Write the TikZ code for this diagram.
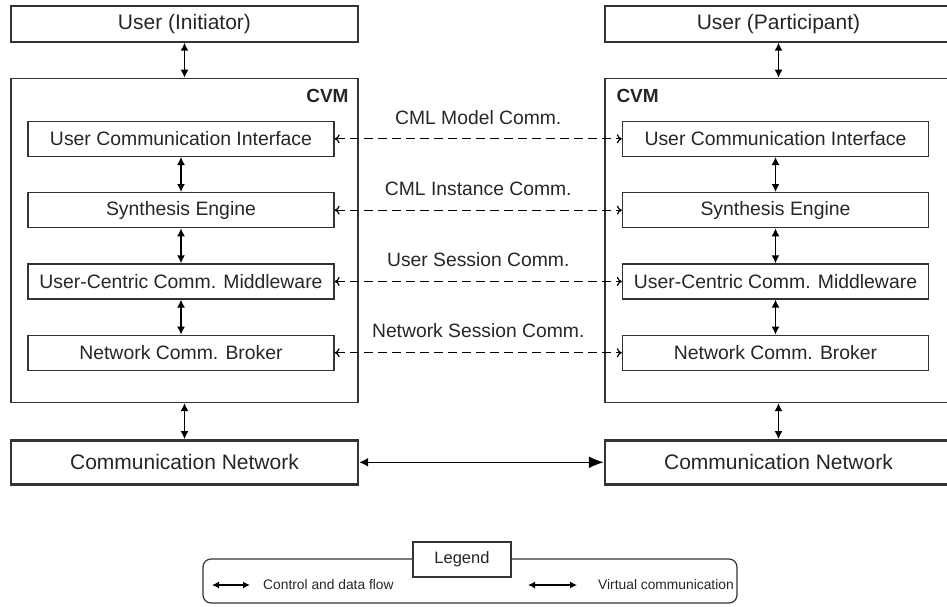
\documentclass[tikz,border=0pt]{standalone}
\usepackage{fontspec}
\setmainfont{Liberation Sans}
\usetikzlibrary{arrows.meta, positioning}

\begin{document}
\begin{tikzpicture}[
  x=1pt, y=-1pt,
  node distance=35pt,
  every node/.style={text=black!85, inner sep=0pt},
  outerbox/.style={draw=black!80, line width=1.4pt, minimum width=347pt},
  userbox/.style={outerbox, minimum height=36pt, font=\fontsize{21}{24}\selectfont},
  cvmbox/.style={outerbox, minimum height=324pt},
  layer/.style={draw=black!80, line width=1.3pt, minimum width=306pt, minimum height=35pt, font=\fontsize{19.4}{22}\selectfont},
  netbox/.style={outerbox, line width=2.4pt, minimum height=44pt, font=\fontsize{21}{24}\selectfont},
  cvmlabel/.style={font=\bfseries\fontsize{19}{22}\selectfont},
  commlabel/.style={font=\fontsize{19.3}{22}\selectfont},
  legendtext/.style={anchor=west, font=\fontsize{13.8}{16}\selectfont},
  flow/.style={{Latex[length=8pt,width=8pt]}-{Latex[length=8pt,width=8pt]}, line width=1.4pt},
  virtual/.style={{To[length=5pt,width=9pt]}-{To[length=5pt,width=9pt]}, line width=1.2pt, dash pattern=on 9pt off 5pt}
]
\useasboundingbox (0,0) rectangle (947,607);
\clip (0,0) rectangle (947,607);

% Initiator side
\node[userbox] (userI) at (184.5,24) {User (Initiator)};
\node[cvmbox, below=of userI] (cvmI) {};
\node[cvmlabel, anchor=north east] (cvmIlabel) at ([xshift=-10pt, yshift=-11pt]cvmI.north east) {CVM};
\node[layer, below=43pt of cvmI.north, xshift=-3.5pt] (uciI) {User Communication Interface};
\node[layer, below=of uciI] (seI) {Synthesis Engine};
\node[layer, below=of seI] (ucmI) {User-Centric Comm. Middleware};
\node[layer, below=of ucmI] (ncbI) {Network Comm. Broker};
\node[netbox, below=36pt of cvmI] (netI) {Communication Network};

% Participant side
\node[userbox] (userP) at (778.5,24) {User (Participant)};
\node[cvmbox, below=of userP] (cvmP) {};
\node[cvmlabel, anchor=north west] (cvmPlabel) at ([xshift=12pt, yshift=-11pt]cvmP.north west) {CVM};
\node[layer, below=43pt of cvmP.north, xshift=-3pt] (uciP) {User Communication Interface};
\node[layer, below=of uciP] (seP) {Synthesis Engine};
\node[layer, below=of seP] (ucmP) {User-Centric Comm. Middleware};
\node[layer, below=of ucmP] (ncbP) {Network Comm. Broker};
\node[netbox, below=36pt of cvmP] (netP) {Communication Network};

% Control and data flow
\draw[flow] (userI) -- (cvmI);
\draw[flow] (uciI) -- (seI);
\draw[flow] (seI) -- (ucmI);
\draw[flow] (ucmI) -- (ncbI);
\draw[flow] (cvmI) -- (netI);
\draw[flow] (userP) -- (cvmP);
\draw[flow] (uciP) -- (seP);
\draw[flow] (seP) -- (ucmP);
\draw[flow] (ucmP) -- (ncbP);
\draw[flow] (cvmP) -- (netP);
\draw[{Latex[length=9pt,width=9pt]}-{Latex[length=15pt,width=12pt]}, line width=1.5pt] (netI) -- (netP);

% Virtual communication
\draw[virtual] (uciI) -- node[commlabel, midway, above=14pt] (cmlmodel) {CML Model Comm.} (uciP);
\draw[virtual] (seI) -- node[commlabel, midway, above=14pt] (cmlinst) {CML Instance Comm.} (seP);
\draw[virtual] (ucmI) -- node[commlabel, midway, above=14pt] (usersess) {User Session Comm.} (ucmP);
\draw[virtual] (ncbI) -- node[commlabel, midway, above=14pt] (netsess) {Network Session Comm.} (ncbP);

% Legend
\node[draw=black!80, line width=1.2pt, rounded corners=8pt, minimum width=534pt, minimum height=44pt] (legend) at (470,581) {};
\node[draw=black!80, line width=1.2pt, fill=white, minimum width=98pt, minimum height=35pt, font=\fontsize{16.5}{19}\selectfont] (legendtitle) at (462,559.5) {Legend};
\coordinate (flowA) at (212,585);
\coordinate (flowB) at (250,585);
\draw[{Latex[length=7pt,width=7pt]}-{Latex[length=7pt,width=7pt]}, line width=1.3pt] (flowA) -- (flowB);
\node[legendtext] (flowtext) at (263,585) {Control and data flow};
\coordinate (virtA) at (528,585);
\coordinate (virtB) at (577,585);
\draw[{Latex[length=7pt,width=7pt]}-{Latex[length=7pt,width=7pt]}, line width=1.3pt] (virtA) -- (virtB);
\node[legendtext] (virttext) at (598,585) {Virtual communication};

\end{tikzpicture}
\end{document}
